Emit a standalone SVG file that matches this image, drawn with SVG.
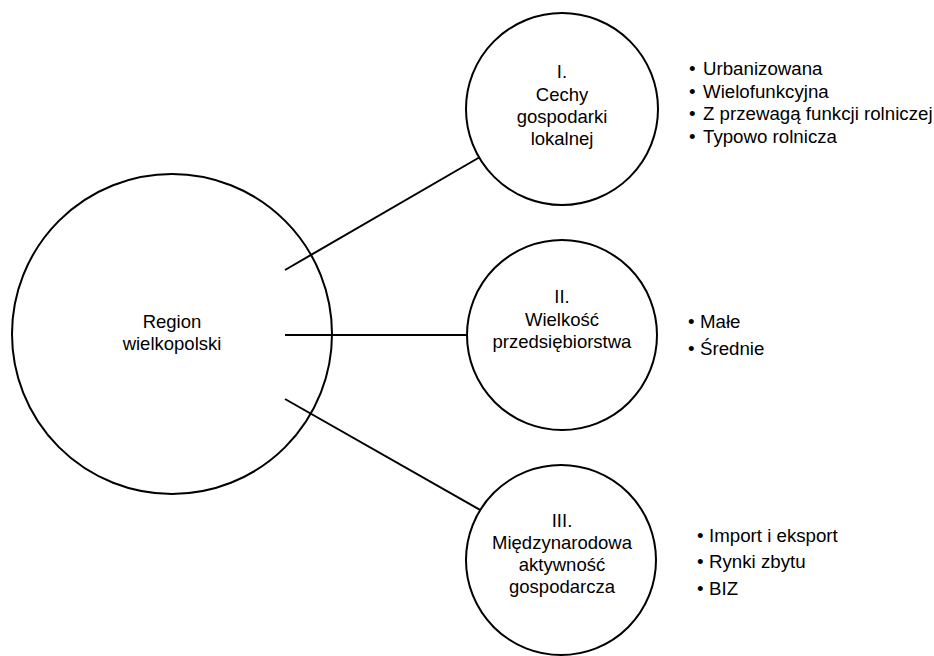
<svg xmlns="http://www.w3.org/2000/svg" width="934" height="656" viewBox="0 0 934 656">
<style>
.c{fill:#fff;stroke:#000;stroke-width:2}
.l{stroke:#000;stroke-width:2;fill:none}
text{font-family:"Liberation Sans",Arial,sans-serif;font-size:18.5px;fill:#000}
.m{text-anchor:middle}
.li{font-size:18.7px}
</style>
<rect width="934" height="656" fill="#fff"/>
<g id="connectors">
<line class="l" x1="285" y1="270" x2="480" y2="157"/>
<line class="l" x1="285" y1="335" x2="467" y2="335"/>
<line class="l" x1="285" y1="399" x2="482" y2="511"/>
</g>
<g id="region">
<circle class="c" cx="172" cy="334" r="160" style="fill:none"/>
<text class="m" x="172" y="328">Region</text>
<text class="m" x="172" y="350">wielkopolski</text>
</g>
<g id="node1">
<circle class="c" cx="562" cy="109" r="96"/>
<text class="m" x="562" y="78">I.</text>
<text class="m" x="562" y="101">Cechy</text>
<text class="m" x="562" y="123">gospodarki</text>
<text class="m" x="562" y="145">lokalnej</text>
</g>
<g id="node2">
<circle class="c" cx="562" cy="335" r="95"/>
<text class="m" x="562" y="303">II.</text>
<text class="m" x="562" y="326">Wielkość</text>
<text class="m" x="562" y="348">przedsiębiorstwa</text>
</g>
<g id="node3">
<circle class="c" cx="561" cy="560" r="95"/>
<text class="m" x="562" y="527">III.</text>
<text class="m" x="562" y="549">Międzynarodowa</text>
<text class="m" x="562" y="571">aktywność</text>
<text class="m" x="562" y="593">gospodarcza</text>
</g>
<g id="list1" class="li">
<text class="li" x="689" y="75">•</text><text class="li" x="703" y="75">Urbanizowana</text>
<text class="li" x="689" y="98">•</text><text class="li" x="703" y="98">Wielofunkcyjna</text>
<text class="li" x="689" y="120">•</text><text class="li" x="703" y="120">Z przewagą funkcji rolniczej</text>
<text class="li" x="689" y="143">•</text><text class="li" x="703" y="143">Typowo rolnicza</text>
</g>
<g id="list2">
<text class="li" x="688" y="328">•</text><text class="li" x="700" y="328">Małe</text>
<text class="li" x="688" y="355">•</text><text class="li" x="700" y="355">Średnie</text>
</g>
<g id="list3">
<text class="li" x="697" y="542">•</text><text class="li" x="709" y="542">Import i eksport</text>
<text class="li" x="697" y="568">•</text><text class="li" x="709" y="568">Rynki zbytu</text>
<text class="li" x="697" y="595">•</text><text class="li" x="709" y="595">BIZ</text>
</g>
</svg>
